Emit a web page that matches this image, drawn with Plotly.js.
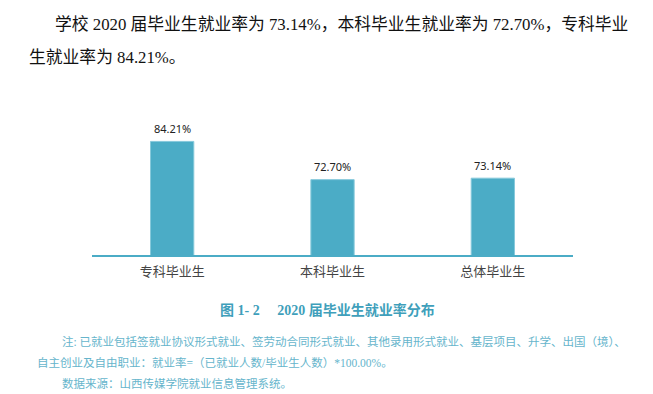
<!DOCTYPE html>
<html><head><meta charset="utf-8">
<script src="https://cdn.plot.ly/plotly-3.0.1.min.js"></script>
<style>html,body{margin:0;padding:0;background:#fff;}#chart{width:653px;height:394px;}</style>
</head><body><div id="chart"></div>
<script>
const categories = ['专科毕业生', '本科毕业生', '总体毕业生'];
const rates = [84.21, 72.70, 73.14];
const introLines = [
  '学校 2020 届毕业生就业率为 73.14%，本科毕业生就业率为 72.70%，专科毕业',
  '生就业率为 84.21%。'
];
const captionText = '图 1- 2　 2020 届毕业生就业率分布';
const noteLines = [
  '注: 已就业包括签就业协议形式就业、签劳动合同形式就业、其他录用形式就业、基层项目、升学、出国（境）、',
  '自主创业及自由职业：就业率=（已就业人数/毕业生人数）*100.00%。',
  '数据来源：山西传媒学院就业信息管理系统。'
];

const W = 653, H = 394;
const L = 92, R = 573, T = 89, B = 255;
const px = x => (x - L) / (R - L);
const py = y => (B - y) / (B - T);

const serif = 'Liberation Serif, Noto Sans CJK SC, serif';
const cjk = 'Noto Sans CJK SC, sans-serif';

const annotations = [];
// data labels
rates.forEach((v, i) => annotations.push({
  x: categories[i], y: v, xref: 'x', yref: 'y', text: v.toFixed(2) + '%',
  showarrow: false, yanchor: 'middle', yshift: 13,
  font: {family: 'Noto Sans, Liberation Sans, sans-serif', size: 11, color: '#222'}
}));
// intro paragraph
[[53, 24], [27, 57]].forEach((p, i) => annotations.push({
  x: px(p[0]), y: py(p[1]), xref: 'paper', yref: 'paper', xanchor: 'left', yanchor: 'middle',
  text: introLines[i], showarrow: false,
  font: {family: serif, size: 16.8, color: '#111'}
}));
// caption
annotations.push({
  x: px(327), y: py(310), xref: 'paper', yref: 'paper', xanchor: 'center', yanchor: 'middle',
  text: '<b>' + captionText + '</b>', showarrow: false,
  font: {family: serif, size: 14, color: '#3f9fbb'}
});
// notes
[[60, 341], [35, 362], [60, 383]].forEach((p, i) => annotations.push({
  x: px(p[0]), y: py(p[1]), xref: 'paper', yref: 'paper', xanchor: 'left', yanchor: 'middle',
  text: noteLines[i], showarrow: false,
  font: {family: serif, size: 11.5, color: '#66b5cc'}
}));

const data = [{
  type: 'bar', x: categories, y: rates,
  marker: {color: '#4bacc6', line: {color: '#86c9db', width: 1}},
  hoverinfo: 'none'
}];

const layout = {
  width: W, height: H,
  margin: {l: L, r: W - R, t: T, b: H - B, pad: 0},
  paper_bgcolor: '#fff', plot_bgcolor: '#fff',
  showlegend: false, bargap: 0.73,
  xaxis: {
    type: 'category', range: [-0.5, 2.5], showline: true, linecolor: '#4bacc6', linewidth: 2,
    showgrid: false, zeroline: false, ticks: '', fixedrange: true, ticklabelstandoff: 3,
    tickfont: {family: cjk, size: 13, color: '#444'}
  },
  yaxis: {range: [50, 100], visible: false, showgrid: false, zeroline: false, fixedrange: true},
  annotations: annotations
};

Plotly.newPlot('chart', data, layout, {staticPlot: true, displayModeBar: false});
</script>
</body></html>
